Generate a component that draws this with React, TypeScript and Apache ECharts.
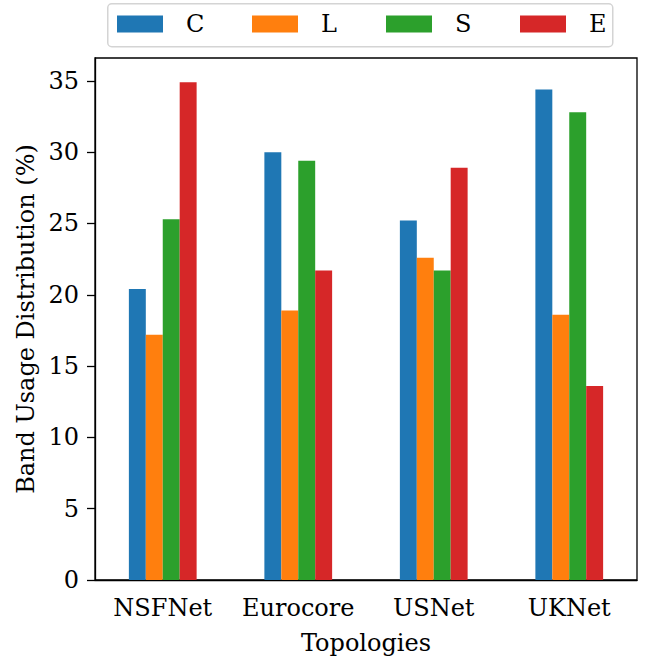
import React, { useEffect, useRef } from "react";
import * as echarts from "echarts";

const categories = ["NSFNet", "Eurocore", "USNet", "UKNet"];
const seriesNames = ["C", "L", "S", "E"];
const valuesC = [20.4, 30.0, 25.2, 34.4];
const valuesL = [17.2, 18.9, 22.6, 18.6];
const valuesS = [25.3, 29.4, 21.7, 32.8];
const valuesE = [34.9, 21.7, 28.9, 13.6];
const colors = ["#1f77b4", "#ff7f0e", "#2ca02c", "#d62728"];
const yTitle = "Band Usage Distribution (%)";
const xTitle = "Topologies";

const FONT = "'DejaVu Serif', 'Liberation Serif', serif";
const FS = 24;

export default function App() {
  const ref = useRef<HTMLDivElement>(null);
  useEffect(() => {
    if (!ref.current) return;
    const chart = echarts.init(ref.current, null, { renderer: "svg" });
    const allValues = [valuesC, valuesL, valuesS, valuesE];
    const legendLefts = [117, 252, 386, 520];
    chart.setOption({
      animation: false,
      textStyle: { fontFamily: FONT },
      graphic: [
        {
          type: "rect",
          left: 107,
          top: 3,
          shape: { width: 505, height: 43, r: 4 },
          style: { fill: "#fff", stroke: "#d4d4d4", lineWidth: 1.5 },
          z: -1,
        },
      ],
      legend: seriesNames.map((n, i) => ({
        data: [n],
        left: legendLefts[i],
        top: 12,
        padding: 0,
        itemWidth: 46,
        itemHeight: 17,
        icon: "rect",
        textStyle: {
          fontFamily: FONT,
          fontSize: FS,
          color: "#000",
          padding: [0, 0, 0, 18],
        },
      })),
      grid: {
        left: 95,
        top: 58,
        width: 542,
        height: 528,
        show: true,
        borderColor: "#000",
        borderWidth: 1.3,
        containLabel: false,
      },
      xAxis: {
        type: "category",
        data: categories,
        boundaryGap: true,
        name: xTitle,
        nameLocation: "middle",
        nameGap: 51,
        nameTextStyle: { fontFamily: FONT, fontSize: FS, color: "#000" },
        axisLine: { lineStyle: { color: "#000", width: 1.3 } },
        axisTick: { alignWithLabel: true, interval: 0, length: 8, lineStyle: { color: "#000", width: 1.3 } },
        axisLabel: { interval: 0, fontFamily: FONT, fontSize: FS, color: "#000", margin: 16 },
        splitLine: { show: false },
      },
      yAxis: {
        type: "value",
        min: 0,
        max: 36.6,
        interval: 5,
        name: yTitle,
        nameLocation: "middle",
        nameGap: 52,
        nameTextStyle: { fontFamily: FONT, fontSize: FS, color: "#000" },
        axisLine: { show: true, lineStyle: { color: "#000", width: 1.3 } },
        axisTick: { show: true, length: 8, lineStyle: { color: "#000", width: 1.3 } },
        axisLabel: { fontFamily: FONT, fontSize: FS, color: "#000", margin: 16, showMaxLabel: false },
        splitLine: { show: false },
      },
      series: seriesNames.map((n, i) => ({
        name: n,
        type: "bar",
        data: allValues[i],
        barWidth: "12.5%",
        barGap: "0%",
        itemStyle: { color: colors[i] },
      })),
    });
    return () => chart.dispose();
  }, []);
  return <div ref={ref} style={{ width: 648, height: 660, position: "absolute", left: 0, top: 0 }} />;
}
